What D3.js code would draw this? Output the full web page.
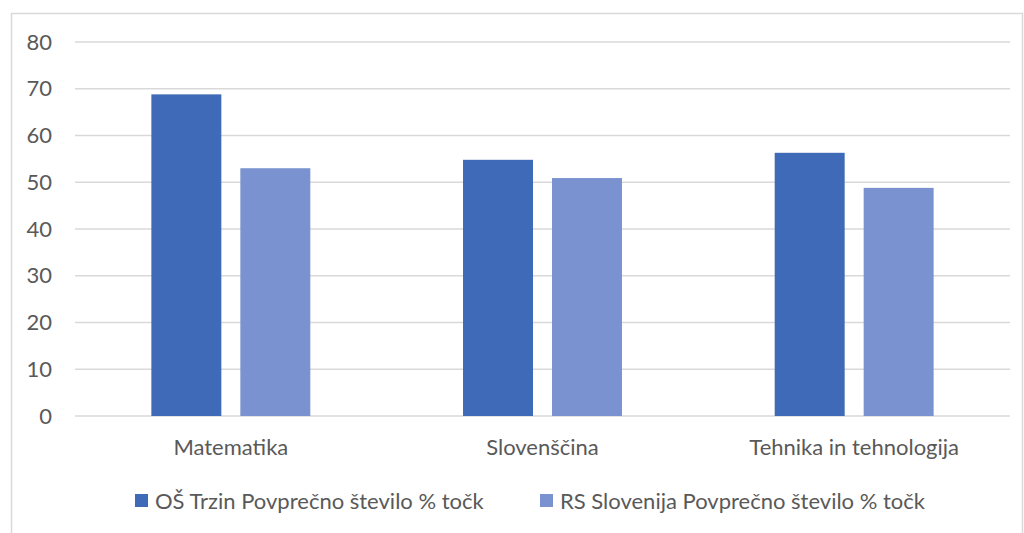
<!DOCTYPE html>
<html>
<head>
<meta charset="utf-8">
<script src="https://cdn.jsdelivr.net/npm/d3@7"></script>
<style>
  body { margin: 0; background: #fff; }
  svg text { font-family: Lato, "Open Sans", sans-serif; fill: #595959; }
</style>
</head>
<body>
<div id="chart"></div>
<script>
// chart data
const categories = ["Matematika", "Slovenščina", "Tehnika in tehnologija"];
const seriesNames = ["OŠ Trzin Povprečno število % točk", "RS Slovenija Povprečno število % točk"];
const trzinValues = [68.8, 54.8, 56.3];
const slovenijaValues = [53.0, 50.9, 48.8];
const yTicks = [0, 10, 20, 30, 40, 50, 60, 70, 80];
const colors = ["#3f6ab7", "#7a93d0"];

const width = 1024, height = 533;
const margin = {top: 42, right: 14, bottom: 117, left: 75};
const innerW = width - margin.left - margin.right;
const innerH = height - margin.top - margin.bottom;

const svg = d3.select("#chart")
  .append("svg")
  .attr("width", width)
  .attr("height", height);

// outer frame
svg.append("rect")
  .attr("x", 11.5).attr("y", 13.5)
  .attr("width", 1011).attr("height", 530)
  .attr("fill", "none")
  .attr("stroke", "#d9d9d9")
  .attr("stroke-width", 1.5);

const g = svg.append("g")
  .attr("transform", "translate(" + margin.left + "," + margin.top + ")");

const y = d3.scaleLinear().domain([0, 80]).range([innerH, 0]);

const x0 = d3.scaleBand()
  .domain(categories)
  .range([0, innerW])
  .paddingInner(0.49)
  .paddingOuter(0.245);

const x1 = d3.scaleBand()
  .domain(seriesNames)
  .range([0, x0.bandwidth()])
  .paddingInner(0.2135);

// gridlines
g.append("g")
  .selectAll("line")
  .data(yTicks)
  .join("line")
  .attr("x1", 0).attr("x2", innerW)
  .attr("y1", d => y(d)).attr("y2", d => y(d))
  .attr("stroke", "#d9d9d9")
  .attr("stroke-width", 1.5);

// y axis labels
g.append("g")
  .call(d3.axisLeft(y).tickValues(yTicks).tickSize(0).tickPadding(23))
  .call(a => a.select(".domain").remove())
  .selectAll("text")
  .attr("font-size", 22)
  .style("fill", "#595959");

const rows = categories.map((c, i) => ({cat: c, vals: [trzinValues[i], slovenijaValues[i]]}));

const groups = g.selectAll(".grp")
  .data(rows)
  .join("g")
  .attr("class", "grp")
  .attr("transform", d => "translate(" + x0(d.cat) + ",0)");

groups.selectAll("rect")
  .data(d => d.vals.map((v, j) => ({name: seriesNames[j], v: v, j: j})))
  .join("rect")
  .attr("x", d => x1(d.name))
  .attr("width", x1.bandwidth())
  .attr("y", d => y(d.v))
  .attr("height", d => innerH - y(d.v))
  .attr("fill", d => colors[d.j]);

// category labels
g.append("g")
  .attr("transform", "translate(0," + innerH + ")")
  .call(d3.axisBottom(x0).tickSize(0).tickPadding(23))
  .call(a => a.select(".domain").remove())
  .selectAll("text")
  .attr("font-size", 22)
  .style("fill", "#595959");

// legend
const legend = svg.append("g").attr("transform", "translate(0,501)");
const legendX = [135, 540];
seriesNames.forEach((name, i) => {
  const lg = legend.append("g").attr("transform", "translate(" + legendX[i] + ",0)");
  lg.append("rect")
    .attr("x", 0).attr("y", -7)
    .attr("width", 13).attr("height", 13)
    .attr("fill", colors[i]);
  lg.append("text")
    .attr("x", 20).attr("y", 8)
    .attr("font-size", 22)
    .text(name);
});
</script>
</body>
</html>
